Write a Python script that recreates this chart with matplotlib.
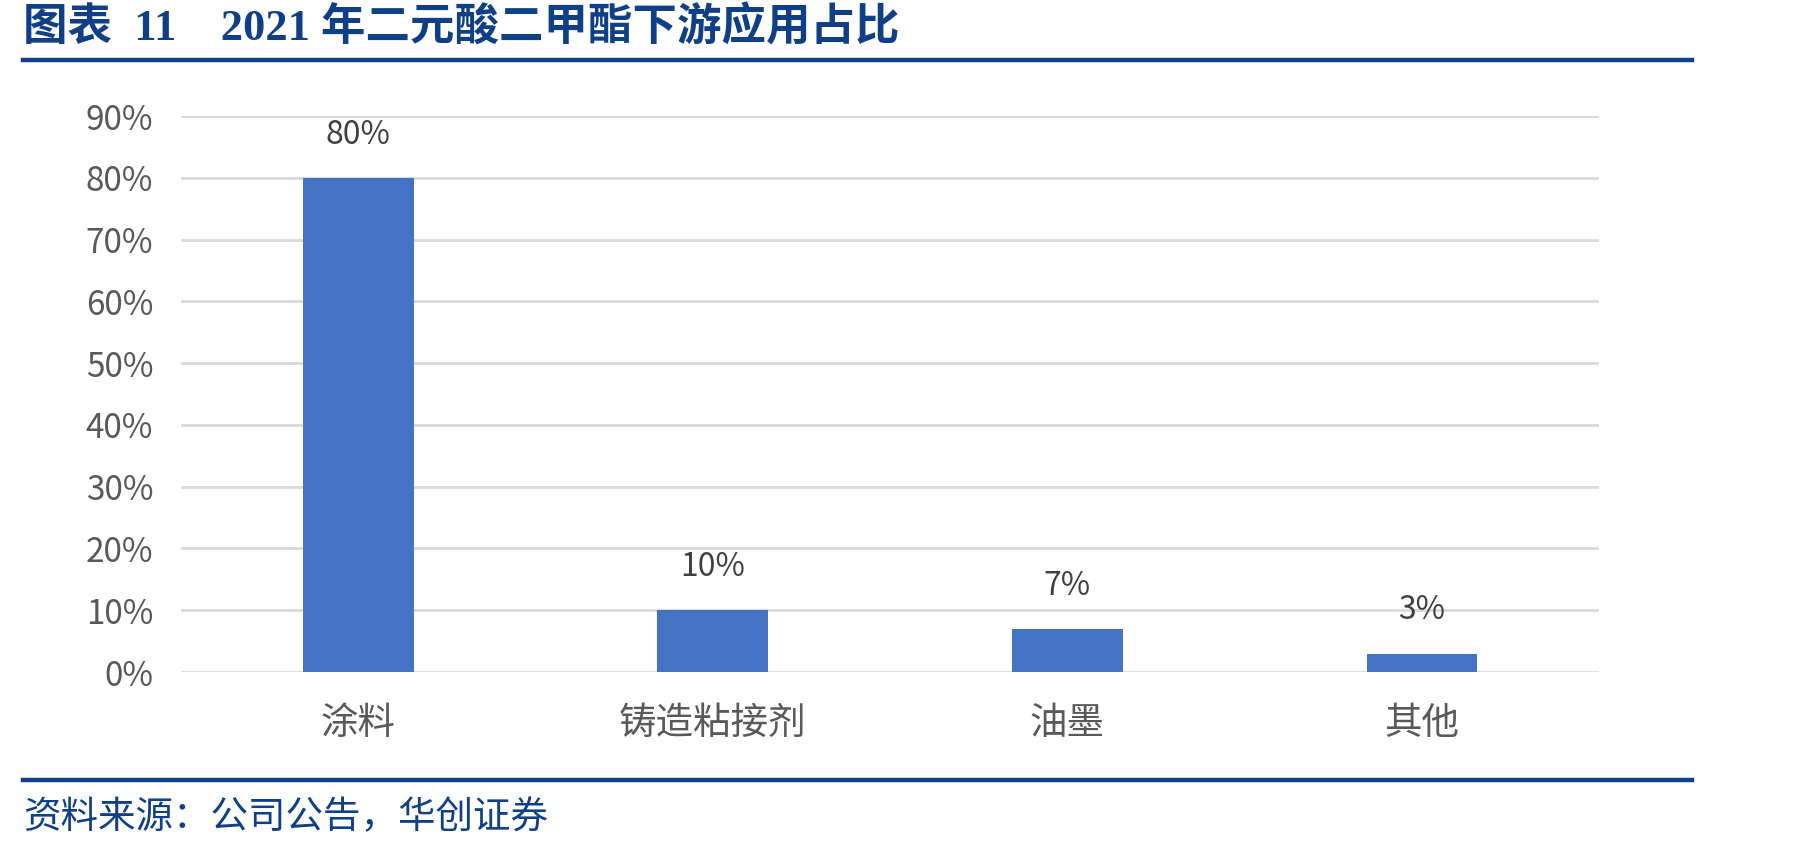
import matplotlib
matplotlib.use("Agg")
import matplotlib.pyplot as plt
from matplotlib.lines import Line2D
from matplotlib.ticker import PercentFormatter

plt.rcParams['font.family'] = ['Noto Sans CJK SC', 'DejaVu Sans']

# data
categories = ["涂料", "铸造粘接剂", "油墨", "其他"]
shares = [0.80, 0.10, 0.07, 0.03]
yticks = [0.0, 0.1, 0.2, 0.3, 0.4, 0.5, 0.6, 0.7, 0.8, 0.9]

title = "图表  11    2021 年二元酸二甲酯下游应用占比"
source = "资料来源：公司公告，华创证券"

navy = "#0F3F86"
bar_color = "#4472C4"
grid_color = "#D9D9D9"

fig = plt.figure(figsize=(18.01, 8.48), dpi=100)
ax = fig.add_axes([0.1005, 0.2075, 0.7875, 0.6557])

x = range(len(categories))
ax.bar(x, shares, width=0.313, color=bar_color, zorder=3)

for xi, v in zip(x, shares):
    ax.annotate(f"{v:.0%}", (xi, v), xytext=(0, 31), textcoords="offset points",
                ha="center", va="center", fontsize=23, color="#404040")

ax.set_xlim(-0.5, len(categories) - 0.5)
ax.set_ylim(0, 0.9)
ax.set_yticks(yticks)
ax.yaxis.set_major_formatter(PercentFormatter(1.0, decimals=0))
ax.set_xticks(list(x))
ax.set_xticklabels(categories)
ax.tick_params(axis="y", length=0, pad=20, labelsize=24, labelcolor="#595959")
ax.tick_params(axis="x", length=0, pad=23, labelsize=27, labelcolor="#595959")
ax.grid(axis="y", color=grid_color, linewidth=2, zorder=0)
for s in ax.spines.values():
    s.set_visible(False)

# header / footer
fig.text(0.0128, 0.967, title, ha="left", va="center", fontsize=32, fontweight="bold",
         color=navy, family=["Liberation Serif", "Noto Sans CJK SC"])
fig.add_artist(Line2D([0.0128, 0.9395], [1 - 60 / 848] * 2, color=navy, linewidth=3.2))
fig.add_artist(Line2D([0.0128, 0.9395], [1 - 780 / 848] * 2, color=navy, linewidth=3.2))
fig.text(0.0128, 1 - 818 / 848, source, ha="left", va="center", fontsize=27,
         style="italic", color=navy)

fig.savefig("out.png", dpi=100)
